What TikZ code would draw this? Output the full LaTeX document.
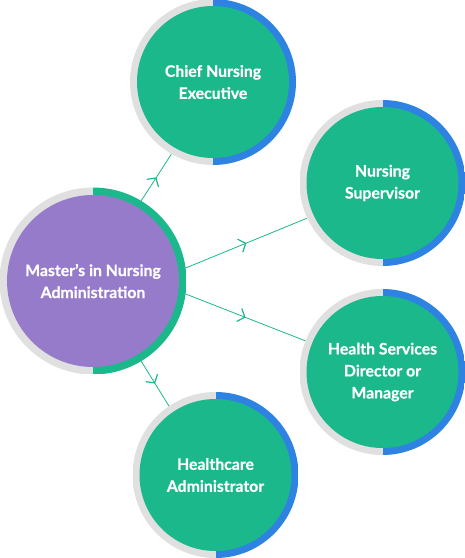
\documentclass[tikz,border=0pt]{standalone}
\usepackage{fontspec}
\setmainfont{Lato}[BoldFeatures={FakeBold=0.5}]
\usetikzlibrary{arrows.meta,decorations.markings}
\definecolor{nursegreen}{HTML}{1BB88B}
\definecolor{ringblue}{HTML}{2E82E2}
\definecolor{ringgray}{HTML}{E0E0E0}
\definecolor{degreepurple}{HTML}{967BCA}

\tikzset{
  ringed/.style n args={4}{circle,inner sep=0pt,minimum size=#1,
    text=white,align=center,font=\bfseries\fontsize{15.8}{22}\selectfont,
    path picture={
      \fill[ringgray] (path picture bounding box.south west)
        rectangle (path picture bounding box.north);
      \fill[#4] (path picture bounding box.south)
        rectangle (path picture bounding box.north east);
      \fill[#3] (path picture bounding box.center) circle[radius=#2];
    }},
  role/.style={ringed={166pt}{76pt}{nursegreen}{ringblue}},
  degree/.style={ringed={187pt}{86pt}{degreepurple}{nursegreen}},
  link/.style={draw=nursegreen,line width=0.8pt,postaction={decorate},
    decoration={markings,mark=at position 0.5 with
      {\arrow{Straight Barb[length=6pt,width=14pt,line width=1.2pt]}}}}
}

\begin{document}
\begin{tikzpicture}[x=1pt,y=1pt]
  \useasboundingbox (0,0) rectangle (465,558);
  \node[degree] (master) at (93,277)    {Master’s in Nursing\\Administration};
  \node[role]   (chief)  at (213,476)   {Chief Nursing\\Executive};
  \node[role]   (super)  at (382.5,375) {Nursing\\Supervisor};
  \node[role]   (health) at (382.5,186) {Health Services\\Director or\\Manager};
  \node[role]   (admin)  at (215.5,83)  {Healthcare\\Administrator};
  % connectors, arrow at the middle
  \draw[link] (master.59)  -- (chief.240);
  \draw[link] (master.8)   -- (super.205);
  \draw[link] (master.-8)  -- (health.158);
  \draw[link] (master.-59) -- (admin.124);
\end{tikzpicture}
\end{document}
